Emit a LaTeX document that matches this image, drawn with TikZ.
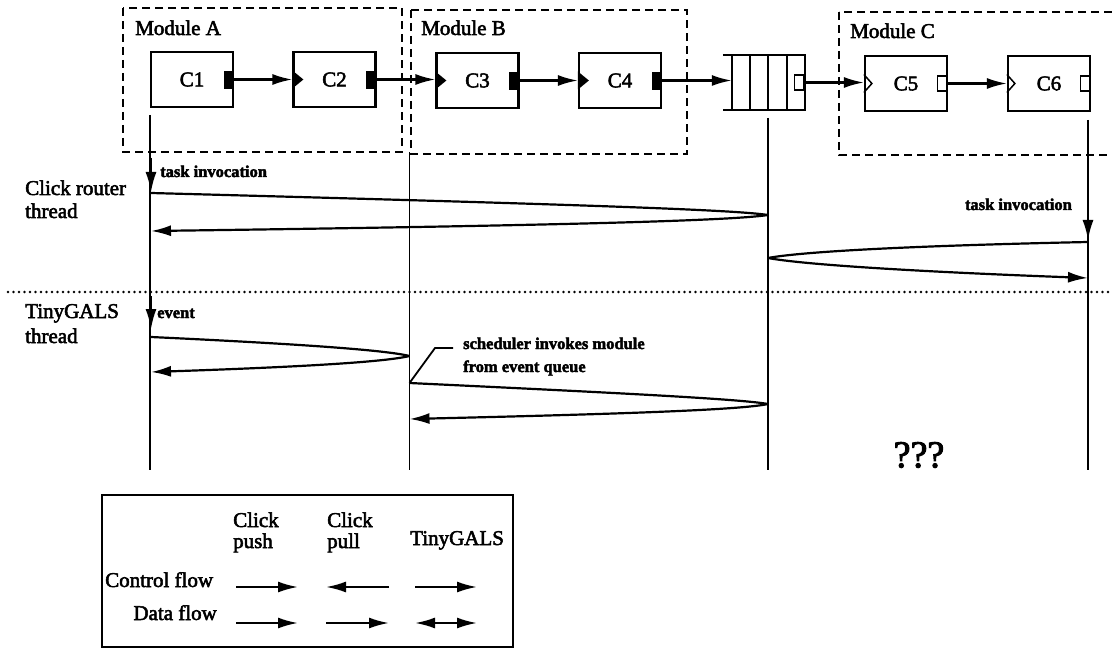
\documentclass[tikz,border=0pt]{standalone}
\usepackage{fontspec}
\setmainfont{Liberation Serif}[FakeBold=2.5]
\usetikzlibrary{arrows.meta,calc}

\tikzset{
  comp/.style={draw, line width=2.2pt, minimum width=82pt, minimum height=55pt,
    inner sep=0pt, font=\fontsize{21}{24}\selectfont},
  portfull/.style={fill=black, draw=black, line width=0.6pt, minimum width=9pt,
    minimum height=17pt, inner sep=0pt},
  portopen/.style={fill=white, draw=black, line width=1.6pt, minimum width=9pt,
    minimum height=15pt, inner sep=0pt},
  modbox/.style={draw, dash pattern=on 8pt off 5pt, line width=2.2pt},
  big/.style={font=\fontsize{21}{24}\selectfont, inner sep=0pt},
  small/.style={font=\fontsize{16.5}{19}\selectfont\bfseries, inner sep=0pt},
  tip/.style={-{Latex[length=20pt,width=11pt]}},
  arr/.style={line width=2.2pt, tip},
  life/.style={line width=2.2pt},
  thinlife/.style={line width=1.3pt},
  sep/.style={line width=2.6pt, line cap=round, dash pattern=on 0pt off 5.5pt},
}

\begin{document}
\begin{tikzpicture}[x=1pt, y=-1pt]
\useasboundingbox (0,0) rectangle (1112,650);
\clip (0,0) rectangle (1112,650);

% module frames
\draw[modbox] (123,8) rectangle (402,152);
\draw[modbox] (411,10) rectangle (687,154);
\draw[modbox] (839,12) rectangle (1125,155);
\node[big, anchor=base west] (mA) at (135,35) {Module A};
\node[big, anchor=base west] (mB) at (421,35) {Module B};
\node[big, anchor=base west] (mC) at (850,38) {Module C};

% components
\node[comp] (C1) at (192,79.5) {C1};
\node[comp] (C2) at (334.5,79.5) {C2};
\node[comp] (C3) at (477.5,80.5) {C3};
\node[comp] (C4) at (620,80.5) {C4};
\node[comp] (C5) at (906,83.5) {C5};
\node[comp] (C6) at (1049,83.5) {C6};

% output ports
\node[portfull, anchor=east] (p1) at ($(C1.east)+(-1,0)$) {};
\node[portfull, anchor=east] (p2) at ($(C2.east)+(-1,0)$) {};
\node[portfull, anchor=east] (p3) at ($(C3.east)+(-1,0)$) {};
\node[portfull, anchor=east] (p4) at ($(C4.east)+(-1,0)$) {};
\node[portopen, anchor=east] (p5) at ($(C5.east)+(-1,0)$) {};
\node[portopen, anchor=east] (p6) at ($(C6.east)+(-1,0)$) {};

% input ports
\foreach \c in {C2,C3,C4}
  \fill ($(\c.west)+(0,-9)$) -- ++(11,9) -- ++(-11,9) -- cycle;
\foreach \c in {C5,C6}
  \draw[line width=1.5pt] ($(\c.west)+(0,-9)$) -- ++(8,9) -- ++(-8,9);

% event queue
\node[minimum width=82pt, minimum height=55pt, inner sep=0pt] (Q) at (764,82.5) {};
\draw[line width=2.2pt] (Q.north west) -- (Q.north east) -- (Q.south east) -- (Q.south west);
\foreach \dx in {9,27,45,64}
  \draw[line width=2pt] ($(Q.north west)+(\dx,0)$) -- ($(Q.south west)+(\dx,0)$);
\coordinate (qin) at ($(Q.west)+(9,0)$);
\node[portopen, anchor=east] (pq) at ($(Q.east)+(-1,0)$) {};

% data connections
\draw[arr] (p1.east) -- (C2.west);
\draw[arr] (p2.east) -- (p2.east -| C3.west);
\draw[arr] (p3.east) -- (p3.east -| C4.west);
\draw[arr] (p4.east) -- (p4.east -| qin);
\draw[arr] (pq.east) -- (pq.east -| C5.west);
\draw[arr] (p5.east) -- (C6.west);

% lifelines
\coordinate (LAt) at (C1.west |- 0,115);  \coordinate (LAb) at (C1.west |- 0,470);
\coordinate (LBt) at (409.5,152);          \coordinate (LBb) at (409.5,470);
\coordinate (LQt) at (768,118);            \coordinate (LQb) at (768,470);
\coordinate (LCt) at (1088,120);           \coordinate (LCb) at (1088,470);
\draw[life] (LAt) -- (LAb);
\draw[thinlife] (LBt) -- (LBb);
\draw[life] (LQt) -- (LQb);
\draw[life] (LCt) -- (LCb);

% thread separator
\coordinate (sepL) at (8,292);
\coordinate (sepR) at (1112,292);
\draw[sep] (sepL) -- (sepR);

% thread labels
\node[big, anchor=base west] (crt1) at (25,195) {Click router};
\node[big, anchor=base west] (crt2) at (25,218) {thread};
\node[big, anchor=base west] (tgt1) at (25,318) {TinyGALS};
\node[big, anchor=base west] (tgt2) at (25,343) {thread};

% Click router thread
\coordinate (ti1) at (151,158); \coordinate (ti2) at (151,192);
\draw[arr] (ti1) -- (ti2);
\node[small, anchor=base west] (tiL) at (160,177) {task invocation};
\coordinate (r1) at (151,193); \coordinate (r2) at (768,215); \coordinate (r3) at (151,231);
\draw[life] (r1) .. controls (600,205) and (735,210) .. (r2);
\draw[arr] (r2) .. controls (735,220) and (600,225) .. (r3);

\coordinate (tj1) at (1088,200); \coordinate (tj2) at (1088,240);
\draw[arr] (tj1) -- (tj2);
\node[small, anchor=base east] (tiR) at (1072,210) {task invocation};
\coordinate (s1) at (1088,242); \coordinate (s2) at (768,258); \coordinate (s3) at (1088,278);
\draw[life] (s1) .. controls (900,246) and (800,252) .. (s2);
\draw[arr] (s2) .. controls (800,264) and (900,271) .. (s3);

% TinyGALS thread
\coordinate (ev1) at (151,296); \coordinate (ev2) at (151,329);
\draw[arr] (ev1) -- (ev2);
\node[small, anchor=base west] (evL) at (157,318) {event};
\coordinate (t1) at (151,337); \coordinate (t2) at (409.5,356); \coordinate (t3) at (151,372);
\draw[life] (t1) .. controls (300,344) and (385,350) .. (t2);
\draw[arr] (t2) .. controls (385,362) and (300,367) .. (t3);

\coordinate (u1) at (409.5,383); \coordinate (u2) at (768,404); \coordinate (u3) at (409.5,419);
\draw[life] (u1) .. controls (620,393) and (740,399) .. (u2);
\draw[arr] (u2) .. controls (740,410) and (620,414) .. (u3);

\node[small, anchor=base west] (sch1) at (463,349) {scheduler invokes module};
\node[small, anchor=base west] (sch2) at (463,372) {from event queue};
\coordinate (k1) at (435,348);
\draw[line width=1.8pt] (u1) -- (k1) -- (k1 -| 453,0);

\node[font=\fontsize{38}{40}\selectfont, inner sep=0pt] (qq) at (919,455) {???};

% legend
\node[draw, line width=1.8pt, minimum width=411pt, minimum height=152pt, inner sep=0pt] (leg) at (307.5,571) {};
\node[big, anchor=base west] (h1a) at (233,527) {Click};
\node[big, anchor=base west] (h1b) at (233,548) {push};
\node[big, anchor=base west] (h2a) at (327,527) {Click};
\node[big, anchor=base west] (h2b) at (327,548) {pull};
\node[big, anchor=base west] (h3) at (410,545) {TinyGALS};
\node[big, anchor=base west] (rc) at (105,587) {Control flow};
\node[big, anchor=base east] (rd) at (217,620) {Data flow};

\coordinate (a1) at (236,587); \coordinate (a2) at (298,587);
\coordinate (a3) at (326,587); \coordinate (a4) at (389,587);
\coordinate (a5) at (415,587); \coordinate (a6) at (477,587);
\coordinate (b1) at (236,623); \coordinate (b2) at (298,623);
\coordinate (b3) at (326,623); \coordinate (b4) at (389,623);
\coordinate (b5) at (415,623); \coordinate (b6) at (477,623);
\draw[arr] (a1) -- (a2);
\draw[arr] (a4) -- (a3);
\draw[arr] (a5) -- (a6);
\draw[arr] (b1) -- (b2);
\draw[arr] (b3) -- (b4);
\draw[line width=2.2pt, {Latex[length=20pt,width=11pt]}-{Latex[length=20pt,width=11pt]}] (b5) -- (b6);
\end{tikzpicture}
\end{document}
